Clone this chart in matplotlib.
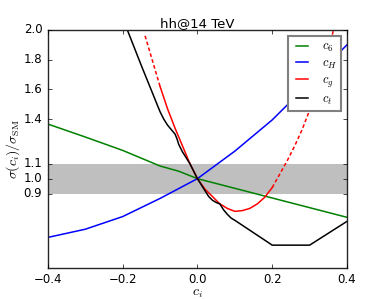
import matplotlib
matplotlib.use('Agg')
import matplotlib.pyplot as plt

# c_6
x_c6 = [-0.4, -0.3, -0.2, -0.1, -0.05, 0.0, 0.1, 0.2, 0.3, 0.4]
y_c6 = [1.367, 1.28, 1.19, 1.085, 1.05, 1.0, 0.935, 0.87, 0.805, 0.74]

# c_H
x_cH = [-0.4, -0.3, -0.2, -0.1, 0.0, 0.1, 0.2, 0.3, 0.4]
y_cH = [0.605, 0.66, 0.745, 0.867, 1.0, 1.185, 1.395, 1.645, 1.9]

# c_g (dashed outside the solid range)
x_cg = [-0.14, -0.12, -0.10, -0.08, -0.06, -0.04, -0.02, 0.0, 0.02, 0.04,
        0.06, 0.08, 0.10, 0.12, 0.14, 0.16, 0.18, 0.20, 0.22, 0.24,
        0.26, 0.28, 0.30, 0.32, 0.34, 0.36, 0.37]
y_cg = [1.96, 1.79, 1.62, 1.47, 1.34, 1.22, 1.10, 1.00, 0.93, 0.88,
        0.83, 0.80, 0.78, 0.785, 0.80, 0.83, 0.875, 0.94, 1.03, 1.12,
        1.22, 1.33, 1.46, 1.60, 1.77, 1.96, 2.06]
cg_lo, cg_hi = -0.10, 0.21

# c_t
x_ct = [-0.20, -0.15, -0.10, -0.09, -0.08, -0.07, -0.06, -0.055, -0.05, -0.04,
        -0.03, -0.02, -0.01, 0.0, 0.01, 0.02, 0.03, 0.04, 0.05, 0.06,
        0.07, 0.08, 0.09, 0.10, 0.20, 0.30, 0.40]
y_ct = [2.08, 1.76, 1.45, 1.40, 1.36, 1.33, 1.30, 1.27, 1.23, 1.18,
        1.14, 1.10, 1.05, 1.0, 0.96, 0.92, 0.88, 0.855, 0.84, 0.83,
        0.79, 0.76, 0.735, 0.72, 0.553, 0.553, 0.713]

yticks = [0.9, 1.0, 1.1, 1.4, 1.6, 1.8, 2.0]
xticks = [-0.4, -0.2, 0.0, 0.2, 0.4]

plt.style.use('classic')

fig = plt.figure(figsize=(3.86, 2.99), dpi=100)
fig.patch.set_facecolor('white')
ax = fig.add_axes([0.124, 0.104, 0.775, 0.796])

ax.axhspan(0.9, 1.1, facecolor='0.75', edgecolor='none', zorder=0)

ax.plot(x_c6, y_c6, color='green', lw=1.1, label=r'$c_6$')
ax.plot(x_cH, y_cH, color='blue', lw=1.1, label=r'$c_H$')

sx = [x for x in x_cg if cg_lo <= x <= cg_hi]
sy = [y for x, y in zip(x_cg, y_cg) if cg_lo <= x <= cg_hi]
ax.plot(sx, sy, color='red', lw=1.1, label=r'$c_g$')
lx = [x for x in x_cg if x <= cg_lo]
ly = [y for x, y in zip(x_cg, y_cg) if x <= cg_lo]
rx = [x for x in x_cg if x >= 0.20]
ry = [y for x, y in zip(x_cg, y_cg) if x >= 0.20]
ax.plot(lx, ly, color='red', lw=1.1, ls='--', dashes=(2.6, 1.8))
ax.plot(rx, ry, color='red', lw=1.1, ls='--', dashes=(2.6, 1.8))

ax.plot(x_ct, y_ct, color='black', lw=1.1, label=r'$c_t$')

ax.set_xlim(-0.4, 0.4)
ax.set_ylim(0.4, 2.0)
ax.set_xticks(xticks)
ax.set_yticks(yticks)
ax.set_xticklabels(['\u22120.4', '\u22120.2', '0.0', '0.2', '0.4'])
ax.tick_params(labelsize=8.5, length=3)
for s in ax.spines.values():
    s.set_color('0.15')

ax.set_title('hh@14 TeV', fontsize=9.5, pad=2)
ax.set_xlabel(r'$c_i$', fontsize=10, labelpad=0)
ax.set_ylabel(r'$\sigma(c_i)/\sigma_{\rm SM}$', fontsize=10, labelpad=1)

leg = ax.legend(loc='upper right', fontsize=9, handlelength=1.6,
                borderaxespad=0.45, labelspacing=0.22, handletextpad=0.8,
                borderpad=0.35)
leg.get_frame().set_edgecolor('0.5')
leg.get_frame().set_linewidth(1.5)

fig.savefig('out.png', dpi=100, facecolor='white')
